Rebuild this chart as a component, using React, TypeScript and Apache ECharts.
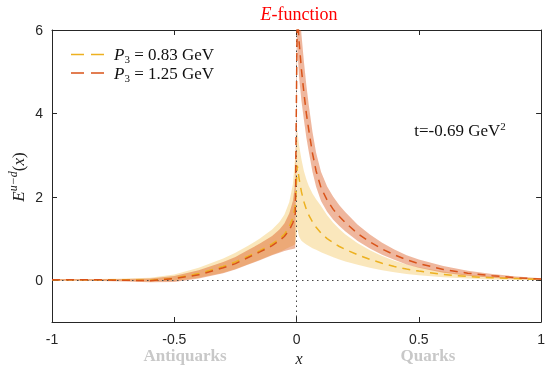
import React, { useEffect, useRef } from 'react';
import * as echarts from 'echarts';

const xValues = [-1, -0.9, -0.8, -0.7, -0.6, -0.5, -0.4, -0.3, -0.25, -0.2, -0.15, -0.1, -0.07, -0.05, -0.03, -0.015, -0.005,
  0.003, 0.01, 0.02, 0.03, 0.04, 0.05, 0.065, 0.08, 0.1, 0.125, 0.15, 0.175, 0.2, 0.25, 0.3, 0.35, 0.4, 0.45, 0.5, 0.6, 0.7, 0.8, 0.9, 1.0];

const orangeMid = [0.01, 0.01, 0.01, 0.0, -0.01, 0.04, 0.13, 0.3, 0.4, 0.54, 0.68, 0.83, 0.95, 1.05, 1.2, 1.38, 1.6,
  6.5, 5.75, 5.05, 4.5, 4.0, 3.6, 3.05, 2.62, 2.22, 1.92, 1.7, 1.53, 1.38, 1.12, 0.92, 0.75, 0.61, 0.49, 0.40, 0.26, 0.17, 0.11, 0.06, 0.03];
const orangeLo = [-0.01, -0.01, -0.02, -0.03, -0.05, -0.04, 0.04, 0.17, 0.26, 0.37, 0.48, 0.6, 0.66, 0.7, 0.73, 0.75, 0.77,
  5.6, 4.9, 4.3, 3.85, 3.42, 3.08, 2.6, 2.24, 1.9, 1.64, 1.45, 1.3, 1.17, 0.94, 0.76, 0.61, 0.49, 0.38, 0.3, 0.18, 0.11, 0.06, 0.03, 0.01];
const orangeHi = [0.03, 0.03, 0.03, 0.03, 0.04, 0.1, 0.24, 0.44, 0.56, 0.72, 0.88, 1.06, 1.22, 1.36, 1.6, 1.9, 2.35,
  7.4, 6.7, 5.9, 5.25, 4.68, 4.2, 3.56, 3.06, 2.6, 2.25, 2.0, 1.8, 1.63, 1.33, 1.1, 0.9, 0.74, 0.6, 0.5, 0.34, 0.23, 0.15, 0.09, 0.05];

const yellowMid = [0.01, 0.01, 0.01, 0.01, 0.0, 0.05, 0.16, 0.33, 0.44, 0.57, 0.71, 0.87, 0.99, 1.1, 1.28, 1.5, 1.8,
  2.75, 2.45, 2.12, 1.88, 1.7, 1.56, 1.4, 1.27, 1.13, 1.0, 0.9, 0.81, 0.74, 0.61, 0.5, 0.41, 0.33, 0.27, 0.22, 0.14, 0.09, 0.06, 0.04, 0.02];
const yellowLo = [-0.01, -0.01, -0.01, -0.02, -0.03, -0.02, 0.06, 0.18, 0.27, 0.38, 0.49, 0.61, 0.68, 0.73, 0.79, 0.83, 0.87,
  1.25, 1.05, 0.95, 0.9, 0.86, 0.82, 0.77, 0.73, 0.67, 0.61, 0.55, 0.5, 0.45, 0.37, 0.3, 0.24, 0.19, 0.15, 0.12, 0.07, 0.04, 0.02, 0.01, 0.0];
const yellowHi = [0.03, 0.03, 0.03, 0.04, 0.06, 0.14, 0.3, 0.52, 0.66, 0.82, 1.0, 1.22, 1.4, 1.57, 1.87, 2.3, 3.0,
  3.6, 3.25, 2.9, 2.62, 2.42, 2.26, 2.08, 1.94, 1.78, 1.56, 1.38, 1.23, 1.1, 0.89, 0.72, 0.58, 0.47, 0.38, 0.31, 0.21, 0.14, 0.09, 0.06, 0.04];

const xTicks = [-1, -0.5, 0, 0.5, 1];
const yTicks = [0, 2, 4, 6];
const seriesNames = ['P3 = 0.83 GeV', 'P3 = 1.25 GeV'];
const legendMomenta = ['0.83', '1.25'];

const SERIF = '"Liberation Serif", "DejaVu Serif", serif';
const SANS = '"Liberation Sans", Arial, sans-serif';
const AX = '#262626';

export default function App() {
  const ref = useRef<HTMLDivElement>(null);
  useEffect(() => {
    const chart = echarts.init(ref.current!, null, { renderer: 'svg' });
    const pts = (ys: number[]) => xValues.map((x, i) => [x, ys[i]]);
    const band = (lo: number[], hi: number[], color: string, z: number) => ({
      type: 'custom',
      silent: true,
      clip: true,
      z,
      data: [[0, 0]],
      renderItem: (params: any, api: any) => {
        const upper = xValues.map((x, i) => api.coord([x, hi[i]]));
        const lower = xValues.map((x, i) => api.coord([x, lo[i]])).reverse();
        const cs = params.coordSys;
        return {
          type: 'polygon',
          shape: { points: upper.concat(lower) },
          style: { fill: color, stroke: 'none' },
          clipPath: { type: 'rect', shape: { x: cs.x, y: cs.y, width: cs.width, height: cs.height } },
        };
      },
    });
    const axisCommon = {
      type: 'value',
      axisLine: { show: true, onZero: false, lineStyle: { color: AX, width: 1 } },
      axisTick: { show: true, inside: true, length: 5, lineStyle: { color: AX } },
      splitLine: { show: false },
    };
    const option: any = {
      animation: false,
      grid: { left: 52, right: 2, top: 30, bottom: 45, containLabel: false },
      xAxis: [
        {
          ...axisCommon, min: -1, max: 1, interval: 0.5, position: 'bottom',
          axisLabel: { customValues: xTicks, formatter: (v: number) => String(v), color: AX, fontSize: 14, fontFamily: SANS, margin: 10 },
          axisTick: { ...axisCommon.axisTick, customValues: xTicks },
        },
        {
          ...axisCommon, min: -1, max: 1, interval: 0.5, position: 'top',
          axisLabel: { show: false },
          axisTick: { ...axisCommon.axisTick, customValues: xTicks },
        },
      ],
      yAxis: [
        {
          ...axisCommon, min: -1, max: 6, position: 'left',
          axisLabel: { customValues: yTicks, color: AX, fontSize: 14, fontFamily: SANS, margin: 9 },
          axisTick: { ...axisCommon.axisTick, customValues: yTicks },
        },
        {
          ...axisCommon, min: -1, max: 6, position: 'right',
          axisLabel: { show: false },
          axisTick: { ...axisCommon.axisTick, customValues: yTicks },
        },
      ],
      legend: {
        data: seriesNames,
        orient: 'vertical',
        left: 66,
        top: 41,
        itemWidth: 33,
        itemHeight: 1.6,
        itemGap: 0,
        icon: 'path://M0,0H13V1.6H0Z M20,0H33V1.6H20Z',
        formatter: (name: string) => {
          const i = seriesNames.indexOf(name);
          return `{i|P}{sub|3}{n| = ${legendMomenta[i]} GeV}`;
        },
        textStyle: {
          color: '#111',
          padding: [0, 0, 0, 5],
          rich: {
            i: { fontFamily: SERIF, fontStyle: 'italic', fontSize: 17, color: '#111', lineHeight: 20 },
            sub: { fontFamily: SERIF, fontSize: 11, color: '#111', verticalAlign: 'bottom', lineHeight: 20 },
            n: { fontFamily: SERIF, fontSize: 17, color: '#111', lineHeight: 20 },
          },
        },
      },
      series: [
        band(yellowLo, yellowHi, 'rgba(237,177,32,0.30)', 2),
        band(orangeLo, orangeHi, 'rgba(217,83,25,0.42)', 3),
        {
          name: seriesNames[0], type: 'line', data: pts(yellowMid), symbol: 'none', showSymbol: false, z: 5,
          color: '#EDB120',
          lineStyle: { color: '#EDB120', width: 1.5, type: [8, 6] },
        },
        {
          name: seriesNames[1], type: 'line', data: pts(orangeMid), symbol: 'none', showSymbol: false, z: 6,
          color: '#D95319',
          lineStyle: { color: '#D95319', width: 1.5, type: [8, 6] },
          markLine: {
            silent: true, symbol: ['none', 'none'], label: { show: false },
            lineStyle: { color: '#444', width: 1, type: [1.5, 3.5] },
            data: [{ yAxis: 0 }, { xAxis: 0 }],
          },
        },
      ],
      graphic: [
        {
          type: 'text', x: 299, y: 14, z: 10,
          style: {
            text: '{i|E}{n|-function}', align: 'center', verticalAlign: 'middle', fill: '#ff0000',
            rich: {
              i: { fontFamily: SERIF, fontStyle: 'italic', fontSize: 18, fill: '#ff0000' },
              n: { fontFamily: SERIF, fontSize: 18, fill: '#ff0000' },
            },
          },
        },
        {
          type: 'text', x: 18, y: 177, rotation: Math.PI / 2, z: 10,
          style: {
            text: '{i|E}{s|u−d}{n|(}{i|x}{n|)}', align: 'center', verticalAlign: 'middle', fill: '#222',
            rich: {
              i: { fontFamily: SERIF, fontStyle: 'italic', fontSize: 17, fill: '#222', lineHeight: 22 },
              s: { fontFamily: SERIF, fontStyle: 'italic', fontSize: 12, fill: '#222', verticalAlign: 'top', lineHeight: 22 },
              n: { fontFamily: SERIF, fontSize: 17, fill: '#222', lineHeight: 22 },
            },
          },
        },
        {
          type: 'text', x: 299, y: 358, z: 10,
          style: { text: 'x', fontFamily: SERIF, fontStyle: 'italic', fontSize: 16, fill: '#222', align: 'center', verticalAlign: 'middle' },
        },
        {
          type: 'text', x: 185, y: 355, z: 10,
          style: { text: 'Antiquarks', fontFamily: SERIF, fontWeight: 'bold', fontSize: 17, fill: '#c8c8c8', align: 'center', verticalAlign: 'middle' },
        },
        {
          type: 'text', x: 428, y: 355, z: 10,
          style: { text: 'Quarks', fontFamily: SERIF, fontWeight: 'bold', fontSize: 17, fill: '#c8c8c8', align: 'center', verticalAlign: 'middle' },
        },
        {
          type: 'text', x: 460, y: 130, z: 10,
          style: {
            text: '{n|t=-0.69 GeV}{s|2}', align: 'center', verticalAlign: 'middle', fill: '#111',
            rich: {
              n: { fontFamily: SERIF, fontSize: 17, fill: '#111', lineHeight: 20 },
              s: { fontFamily: SERIF, fontSize: 11, fill: '#111', verticalAlign: 'top', lineHeight: 20 },
            },
          },
        },
      ],
    };
    chart.setOption(option);
    return () => chart.dispose();
  }, []);
  return <div ref={ref} style={{ position: 'fixed', left: 0, top: 0, width: 548, height: 367 }} />;
}
